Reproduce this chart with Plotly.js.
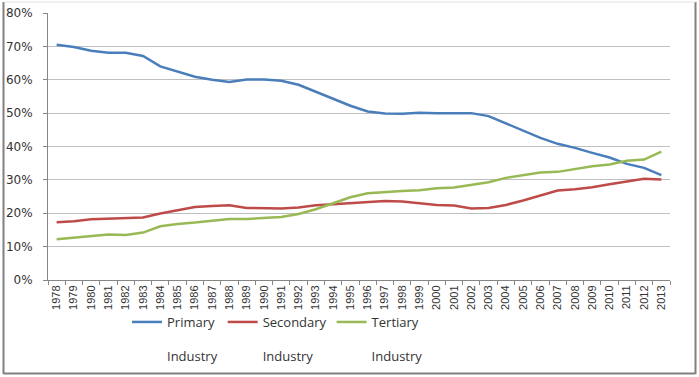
<!DOCTYPE html>
<html>
<head>
<meta charset="utf-8">
<script src="https://cdn.plot.ly/plotly-3.0.1.min.js"></script>
<style>
html,body{margin:0;padding:0;background:#fff;}
#chart{width:699px;height:377px;}
</style>
</head>
<body>
<div id="chart"></div>
<script>
var years = ["1978","1979","1980","1981","1982","1983","1984","1985","1986","1987","1988","1989","1990","1991","1992","1993","1994","1995","1996","1997","1998","1999","2000","2001","2002","2003","2004","2005","2006","2007","2008","2009","2010","2011","2012","2013"];
var primary = [70.5,69.8,68.7,68.1,68.1,67.1,64.0,62.4,60.9,60.0,59.3,60.1,60.1,59.7,58.5,56.4,54.3,52.2,50.5,49.9,49.8,50.1,50.0,50.0,50.0,49.1,46.9,44.8,42.6,40.8,39.6,38.1,36.7,34.8,33.6,31.4];
var secondary = [17.3,17.6,18.2,18.3,18.4,18.7,19.9,20.8,21.9,22.2,22.4,21.6,21.4,21.4,21.7,22.4,22.7,23.0,23.5,23.7,23.5,23.0,22.5,22.3,21.4,21.6,22.5,23.8,25.2,26.8,27.2,27.8,28.7,29.5,30.3,30.1];
var tertiary = [12.2,12.6,13.1,13.6,13.5,14.2,16.1,16.8,17.2,17.8,18.3,18.3,18.5,18.9,19.8,21.2,23.0,24.8,26.0,26.4,26.7,26.9,27.5,27.7,28.6,29.3,30.6,31.4,32.2,32.4,33.2,34.1,34.6,35.7,36.1,38.5];
var seriesNames = ["Primary<br><br>Industry","Secondary<br><br>Industry","Tertiary<br><br>Industry"];
var colors = ["#4A7EBB","#BE4B48","#98B954"];
var yTicks = [0,10,20,30,40,50,60,70,80];

var allSeries = [primary, secondary, tertiary];
var traces = allSeries.map(function(s,i){
  return {x: years, y: s, type: "scatter", mode: "lines", name: seriesNames[i],
          line: {color: colors[i], width: 2.5}, hoverinfo: "skip"};
});

var L = 48, R = 670, T = 13, B = 280;
var pw = R - L, ph = B - T;
function px(x){ return (x - L)/pw; }
function py(y){ return (B - y)/ph; }

var layout = {
  width: 699, height: 377,
  margin: {l: L, r: 699 - R, t: T, b: 377 - B, pad: 0, autoexpand: false},
  paper_bgcolor: "#fff", plot_bgcolor: "#fff",
  showlegend: true,
  font: {family: "DejaVu Sans", color: "#333"},
  xaxis: {
    type: "category", range: [-0.5, years.length - 0.5], automargin: false,
    tickson: "boundaries", ticks: "outside", ticklen: 4, tickcolor: "#868686",
    showline: true, linecolor: "#868686", linewidth: 1,
    showgrid: false, tickangle: -90,
    tickfont: {family: "Liberation Sans Narrow, Liberation Sans", size: 11, color: "#333"}
  },
  yaxis: {
    range: [0, 80], tickvals: yTicks, ticktext: yTicks.map(function(v){return v+"%";}),
    automargin: false,
    ticks: "outside", ticklen: 4, tickcolor: "#868686",
    showline: true, linecolor: "#868686", linewidth: 1,
    showgrid: true, gridcolor: "#BFBFBF", gridwidth: 1, zeroline: false,
    ticklabelstandoff: 8,
    tickfont: {family: "DejaVu Sans", size: 12, color: "#333"}
  },
  legend: {
    orientation: "h", x: px(127), xanchor: "left", y: py(307), yanchor: "top",
    valign: "top", font: {family: "Open Sans", size: 13, color: "#333"},
    bgcolor: "rgba(0,0,0,0)", traceorder: "normal"
  },
  shapes: [
    {type: "line", xref: "paper", yref: "paper", x0: px(3.5), x1: px(3.5), y0: py(374), y1: py(2), line: {color: "#808080", width: 2}},
    {type: "line", xref: "paper", yref: "paper", x0: px(695.5), x1: px(695.5), y0: py(374), y1: py(2), line: {color: "#808080", width: 2}},
    {type: "line", xref: "paper", yref: "paper", x0: px(3.5), x1: px(695.5), y0: py(373.5), y1: py(373.5), line: {color: "#808080", width: 2}},
    {type: "line", xref: "paper", yref: "paper", x0: px(3.5), x1: px(695.5), y0: py(2), y1: py(2), line: {color: "#E0E0E0", width: 1}}
  ]
};

Plotly.newPlot("chart", traces, layout, {displayModeBar: false, staticPlot: true});
</script>
</body>
</html>
